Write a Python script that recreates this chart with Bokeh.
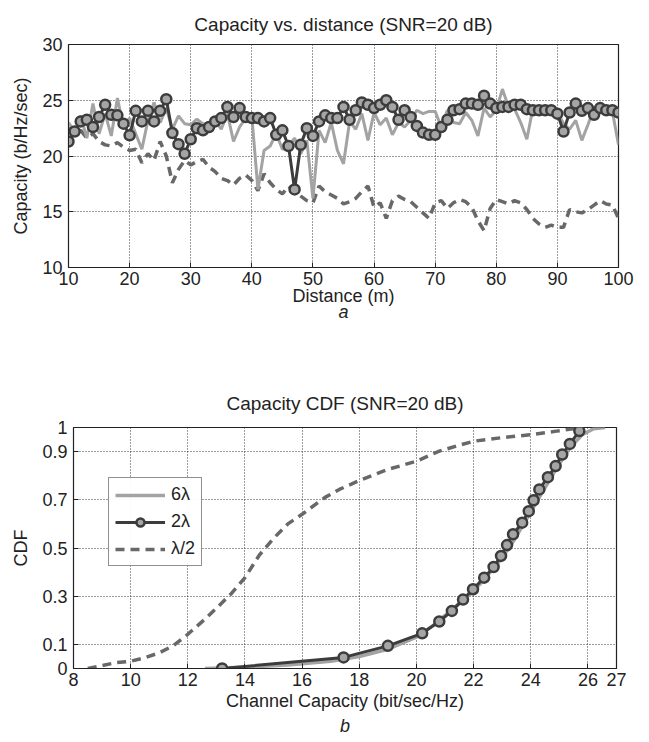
from bokeh.plotting import figure
from bokeh.layouts import column, row
from bokeh.models import FixedTicker, Legend, LegendItem, Title, Spacer
from bokeh.embed import file_html
from bokeh.resources import INLINE

# ---------------- data: capacity vs distance ----------------
distance = list(range(10, 101))
cap_6lam = [23.0, 22.2, 23.6, 21.6, 24.7, 22.0, 23.8, 21.8, 25.2, 22.6,
            23.4, 22.0, 20.6, 23.2, 24.8, 23.0, 24.3, 22.4, 23.6, 22.9,
            22.8, 23.3, 22.9, 22.6, 23.2, 22.4, 23.8, 21.3, 22.6, 23.4,
            23.5, 17.0, 20.5, 20.9, 22.0, 20.6, 20.9, 21.6, 20.2, 21.4,
            16.2, 22.3, 21.2, 23.0, 20.5, 19.3, 23.1, 22.4, 23.8, 21.4,
            23.9, 22.8, 23.4, 21.9, 23.0, 22.6, 23.2, 24.1, 23.8, 24.0,
            24.0, 22.6, 24.1, 23.0, 22.9, 23.9, 23.2, 21.8, 24.3, 23.5,
            24.1, 26.0, 24.4, 24.2, 23.0, 21.5, 24.3, 23.8, 24.1, 24.1,
            24.0, 22.9, 22.4, 23.2, 21.4, 22.8, 24.3, 24.0, 24.2, 24.0,
            21.0]
cap_2lam = [21.3, 22.2, 23.1, 23.25, 22.6, 23.5, 24.6, 23.7, 23.65, 22.9,
            21.85, 24.05, 23.1, 24.05, 23.1, 24.05, 25.1, 22.06, 21.06, 20.2,
            21.5, 22.5, 22.3, 22.6, 23.1, 23.4, 24.4, 23.5, 24.3, 23.5,
            23.4, 23.4, 23.1, 23.4, 21.9, 22.3, 20.9, 17.0, 21.0, 22.5,
            21.8, 23.1, 23.65, 23.4, 23.4, 24.4, 23.25, 24.1, 24.8, 24.6,
            24.3, 24.6, 25.0, 24.4, 23.25, 24.1, 23.5, 22.7, 22.1, 21.9,
            21.9, 22.6, 23.25, 24.1, 24.2, 24.7, 24.7, 24.6, 25.4, 24.7,
            24.3, 24.4, 24.4, 24.6, 24.6, 24.2, 24.1, 24.1, 24.1, 24.1,
            23.8, 22.2, 23.9, 24.7, 24.05, 24.3, 23.7, 24.3, 24.1, 24.1,
            23.9]
cap_half = [22.5, 22.0, 22.3, 21.6, 22.0, 21.3, 21.0, 20.9, 21.2, 20.8,
            20.5, 20.6, 19.4, 20.2, 19.6, 21.3, 20.0, 17.6, 18.8, 19.6,
            19.2, 19.5, 19.7, 19.0, 18.6, 18.0, 17.8, 17.4, 18.0, 18.3,
            17.8, 16.9, 18.4, 17.6, 17.0, 16.6, 17.3, 16.8, 16.4, 16.0,
            15.8, 17.3, 16.8, 16.5, 16.2, 15.7, 15.9, 16.2, 16.8, 17.3,
            15.4, 15.8, 14.4, 16.0, 16.4, 16.1, 15.9, 15.4, 14.9, 14.4,
            15.8, 16.0, 15.3, 15.8, 16.1, 15.9, 15.4, 14.2, 13.3, 15.3,
            16.1, 15.9, 15.7, 16.0, 15.8, 15.2, 14.4, 13.9, 13.6, 13.8,
            13.6, 13.6, 15.2, 15.0, 14.9, 15.2, 15.6, 16.0, 15.7, 15.6,
            14.4]

dist_ticks = [10, 20, 30, 40, 50, 60, 70, 80, 90, 100]
cap_ticks = [10, 15, 20, 25, 30]

# ---------------- data: capacity CDF ----------------
cdf6_x = [12.6, 14.0, 15.5, 17.0, 18.0, 19.0, 20.0, 20.6, 21.2, 21.8, 22.3,
          22.8, 23.3, 23.8, 24.2, 24.6, 25.0, 25.4, 25.8, 26.2, 26.6]
cdf6_y = [0.0, 0.005, 0.015, 0.03, 0.05, 0.08, 0.13, 0.18, 0.24, 0.30, 0.36,
          0.43, 0.51, 0.61, 0.69, 0.77, 0.85, 0.92, 0.97, 0.995, 1.0]
cdf2_x = [13.2, 17.45, 19.0, 20.2, 20.8, 21.24, 21.63, 21.98, 22.37, 22.7, 22.96,
          23.17, 23.38, 23.7, 23.93, 24.1, 24.3, 24.6, 24.87, 25.1, 25.37, 25.7]
cdf2_y = [0.0, 0.046, 0.094, 0.146, 0.195, 0.239, 0.286, 0.329, 0.377, 0.421, 0.467,
          0.512, 0.557, 0.605, 0.653, 0.698, 0.743, 0.794, 0.84, 0.888, 0.932, 0.985]
cdfh_x = [8.5, 9.0, 9.5, 10.0, 10.5, 11.0, 11.5, 12.0, 12.6, 13.0, 13.5, 14.0,
          14.5, 15.0, 15.5, 16.0, 16.8, 17.3, 18.0, 19.0, 20.0, 20.8, 21.4, 22.0,
          23.0, 24.0, 24.9, 25.8]
cdfh_y = [0.0, 0.012, 0.025, 0.03, 0.045, 0.065, 0.095, 0.142, 0.205, 0.25, 0.308,
          0.377, 0.47, 0.54, 0.6, 0.64, 0.71, 0.743, 0.78, 0.826, 0.86, 0.902, 0.923,
          0.943, 0.958, 0.97, 0.985, 1.0]

cc_ticks = [8, 10, 12, 14, 16, 18, 20, 22, 24, 26, 27]
cdf_ticks = [0, 0.1, 0.3, 0.5, 0.7, 0.9, 1]
cdf_labels = ["0", "0.1", "0.3", "0.5", "0.7", "0.9", "1"]
series_names = ["6\u03bb", "2\u03bb", "\u03bb/2"]

FONT = "Liberation Sans"
FS = "18px"
FT = "19px"
C6 = "#a3a3a3"
C2 = "#3c3c3c"
C2F = "#a5a5a5"
CH = "#686868"


def style(p):
    p.outline_line_color = "#222222"
    p.outline_line_width = 1.2
    p.background_fill_color = "white"
    p.border_fill_color = "white"
    p.grid.grid_line_color = "#222222"
    p.grid.grid_line_dash = "1 2"
    p.grid.grid_line_width = 1
    p.grid.grid_line_alpha = 0.9
    p.title.align = "center"
    p.title.text_font = FONT
    p.title.text_font_size = FT
    p.title.text_font_style = "normal"
    p.title.text_color = "#222222"
    for ax in p.axis:
        ax.major_tick_in = 5
        ax.major_tick_out = 0
        ax.minor_tick_line_color = None
        ax.axis_line_color = "#222222"
        ax.major_tick_line_color = "#222222"
        ax.major_label_text_font = FONT
        ax.major_label_text_font_size = FS
        ax.major_label_text_color = "#222222"
        ax.axis_label_text_font = FONT
        ax.axis_label_text_font_size = FS
        ax.axis_label_text_font_style = "normal"
        ax.axis_label_text_color = "#222222"
        ax.major_label_standoff = 4
        ax.axis_label_standoff = 4
    p.yaxis.major_label_standoff = 6
    p.yaxis.axis_label_standoff = 8


# ---------------- figure a ----------------
p1 = figure(frame_width=550, frame_height=223, x_range=(10, 100), y_range=(10, 30),
            output_backend="svg", toolbar_location=None,
            min_border_left=68, min_border_right=20, min_border_top=44, min_border_bottom=100)
p1.title.text = "Capacity vs. distance (SNR=20 dB)"
p1.xaxis.axis_label = "Distance (m)"
p1.yaxis.axis_label = "Capacity (b/Hz/sec)"
p1.xaxis.ticker = FixedTicker(ticks=dist_ticks)
p1.yaxis.ticker = FixedTicker(ticks=cap_ticks)
style(p1)
p1.title.standoff = 20
p1.xaxis.major_label_standoff = 4
p1.xaxis.axis_label_standoff = -2
p1.add_layout(Title(text="a", align="center", text_font=FONT, text_font_size=FS,
                    text_font_style="italic", text_color="#222222", standoff=-18), "below")

p1.line(distance, cap_half, line_color=CH, line_width=3.5, line_dash="9 6")
p1.line(distance, cap_6lam, line_color=C6, line_width=3)
p1.line(distance, cap_2lam, line_color=C2, line_width=3)
p1.scatter(distance, cap_2lam, size=10, fill_color=C2F, line_color=C2, line_width=2.5)

# ---------------- figure b ----------------
p2 = figure(frame_width=543, frame_height=241, x_range=(8, 27), y_range=(0, 1),
            output_backend="svg", toolbar_location=None,
            min_border_left=68, min_border_right=20, min_border_top=60, min_border_bottom=5)
p2.title.text = "Capacity CDF (SNR=20 dB)"
p2.xaxis.axis_label = "Channel Capacity (bit/sec/Hz)"
p2.yaxis.axis_label = "CDF"
p2.xaxis.ticker = FixedTicker(ticks=cc_ticks)
p2.yaxis.ticker = FixedTicker(ticks=cdf_ticks)
p2.yaxis.major_label_overrides = {t: s for t, s in zip(cdf_ticks, cdf_labels)}
style(p2)
p2.title.standoff = 28
p2.xaxis.major_label_standoff = 4
p2.xaxis.axis_label_standoff = 2
p2.add_layout(Title(text="b", align="center", text_font=FONT, text_font_size=FS,
                    text_font_style="italic", text_color="#222222", standoff=0), "below")

r6 = p2.line(cdf6_x, cdf6_y, line_color=C6, line_width=3.5)
rh = p2.line(cdfh_x, cdfh_y, line_color=CH, line_width=3.5, line_dash="9 6")
r2 = p2.line(cdf2_x, cdf2_y, line_color=C2, line_width=3)
r2m = p2.scatter(cdf2_x, cdf2_y, size=10, fill_color=C2F, line_color=C2, line_width=2.5)

legend = Legend(items=[LegendItem(label=series_names[0], renderers=[r6]),
                       LegendItem(label=series_names[1], renderers=[r2, r2m]),
                       LegendItem(label=series_names[2], renderers=[rh])],
                location=(35, 102), glyph_width=50, glyph_height=20,
                label_text_font=FONT, label_text_font_size=FS, label_text_color="#222222",
                border_line_color="#222222", border_line_width=1.5,
                spacing=6, padding=6, margin=0, label_standoff=6)
p2.add_layout(legend, "center")

layout = column(p1, row(Spacer(width=5, height=10), p2, spacing=0), spacing=0)
open("out.html", "w").write(file_html(layout, INLINE))
